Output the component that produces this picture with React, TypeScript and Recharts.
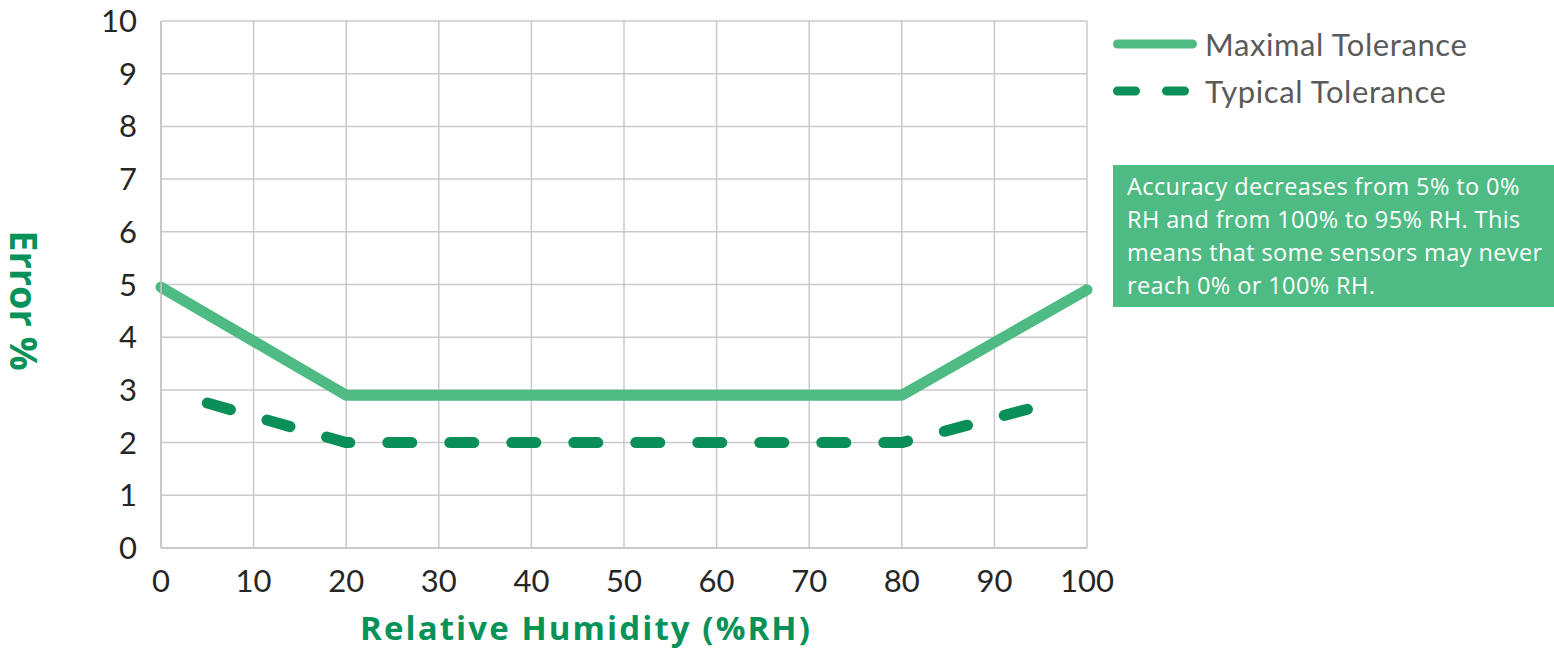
import React from 'react';
import { LineChart, Line, XAxis, YAxis, CartesianGrid, Label } from 'recharts';

// Maximal tolerance (solid)
const maxHumidity = [0, 20, 80, 100];
const maxError = [4.95, 2.9, 2.9, 4.9];

// Typical tolerance (dashed)
const typicalHumidity = [5, 20, 80, 95];
const typicalError = [2.75, 2.0, 2.0, 2.7];

const xTicks = [0, 10, 20, 30, 40, 50, 60, 70, 80, 90, 100];
const yTicks = [0, 1, 2, 3, 4, 5, 6, 7, 8, 9, 10];

const seriesNames = ['Maximal Tolerance', 'Typical Tolerance'];
const noteLines = [
  'Accuracy decreases from 5% to 0%',
  'RH and from 100% to 95% RH. This',
  'means that some sensors may never',
  'reach 0% or 100% RH.',
];

const maxData = maxHumidity.map((x, i) => ({ x, v: maxError[i] }));
const typicalData = typicalHumidity.map((x, i) => ({ x, v: typicalError[i] }));

const MAX_COLOR = '#4dbb83';
const TYP_COLOR = '#0b8f58';
const TITLE_COLOR = '#07925a';
const FONT = 'Lato, "Noto Sans", sans-serif';
const WIDE = '"Open Sans", "Noto Sans", sans-serif';

function ChartLegend() {
  return (
    <div style={{ position: 'absolute', left: 1108, top: 20, fontFamily: FONT }}>
      {seriesNames.map((name, i) => (
        <div key={name} style={{ display: 'flex', alignItems: 'center', height: 47 }}>
          <svg width={95} height={20} style={{ flex: 'none' }}>
            <line
              x1={9.5}
              x2={i === 0 ? 84.5 : 80}
              y1={10}
              y2={10}
              stroke={i === 0 ? MAX_COLOR : TYP_COLOR}
              strokeWidth={9}
              strokeLinecap="round"
              strokeDasharray={i === 0 ? undefined : '18 31'}
            />
          </svg>
          <span style={{ fontSize: 31, letterSpacing: 0.6, color: '#5a5a5a', marginLeft: 2, whiteSpace: 'nowrap' }}>
            {name}
          </span>
        </div>
      ))}
    </div>
  );
}

function YTitle(props: any) {
  const { viewBox } = props;
  const cx = 25;
  const cy = viewBox.y + viewBox.height / 2 + 16;
  return (
    <text
      x={cx}
      y={cy}
      transform={`rotate(90 ${cx} ${cy})`}
      textAnchor="middle"
      dominantBaseline="central"
      fill={TITLE_COLOR}
      fontFamily={WIDE}
      fontWeight={700}
      fontSize={38}
    >
      Error %
    </text>
  );
}

function XTitle(props: any) {
  const { viewBox } = props;
  const cx = viewBox.x + viewBox.width / 2 - 38;
  return (
    <text
      x={cx}
      y={640}
      textAnchor="middle"
      fill={TITLE_COLOR}
      fontFamily={WIDE}
      fontWeight={700}
      fontSize={33}
      letterSpacing={2.1}
    >
      Relative Humidity (%RH)
    </text>
  );
}

export default function App() {
  return (
    <div style={{ position: 'absolute', left: 0, top: 0, width: 1554, height: 653 }}>
      <LineChart
        width={1554}
        height={653}
        margin={{ top: 21, right: 467, left: 0, bottom: 0 }}
      >
        <CartesianGrid stroke="#cacaca" strokeWidth={1.5} />
        <XAxis
          type="number"
          dataKey="x"
          domain={[0, 100]}
          ticks={xTicks}
          height={105}
          tickLine={false}
          tickMargin={16}
          axisLine={{ stroke: '#c4c4c4', strokeWidth: 1.5 }}
          tick={{ fill: '#262626', fontSize: 31, fontFamily: FONT }}
          allowDuplicatedCategory={false}
        >
          <Label content={XTitle} />
        </XAxis>
        <YAxis
          type="number"
          domain={[0, 10]}
          ticks={yTicks}
          width={161}
          tickLine={false}
          tickMargin={18}
          axisLine={{ stroke: '#c4c4c4', strokeWidth: 1.5 }}
          tick={{ fill: '#262626', fontSize: 31, fontFamily: FONT }}
        >
          <Label content={YTitle} />
        </YAxis>
        <Line
          data={maxData}
          dataKey="v"
          name={seriesNames[0]}
          type="linear"
          stroke={MAX_COLOR}
          strokeWidth={11}
          strokeLinecap="round"
          strokeLinejoin="round"
          dot={false}
          activeDot={false}
          isAnimationActive={false}
        />
        <Line
          data={typicalData}
          dataKey="v"
          name={seriesNames[1]}
          type="linear"
          stroke={TYP_COLOR}
          strokeWidth={11}
          strokeLinecap="round"
          strokeLinejoin="round"
          strokeDasharray="24 38"
          dot={false}
          activeDot={false}
          isAnimationActive={false}
        />
      </LineChart>
      <ChartLegend />
      <div
        style={{
          position: 'absolute',
          left: 1113,
          top: 165,
          width: 441,
          height: 142,
          boxSizing: 'border-box',
          padding: '5px 0 0 14px',
          background: '#4fbb84',
          color: '#ffffff',
          fontFamily: WIDE,
          fontSize: 23.5,
          letterSpacing: 0.4,
          lineHeight: '33px',
          whiteSpace: 'nowrap',
        }}
      >
        {noteLines.map((line) => (
          <div key={line}>{line}</div>
        ))}
      </div>
    </div>
  );
}
